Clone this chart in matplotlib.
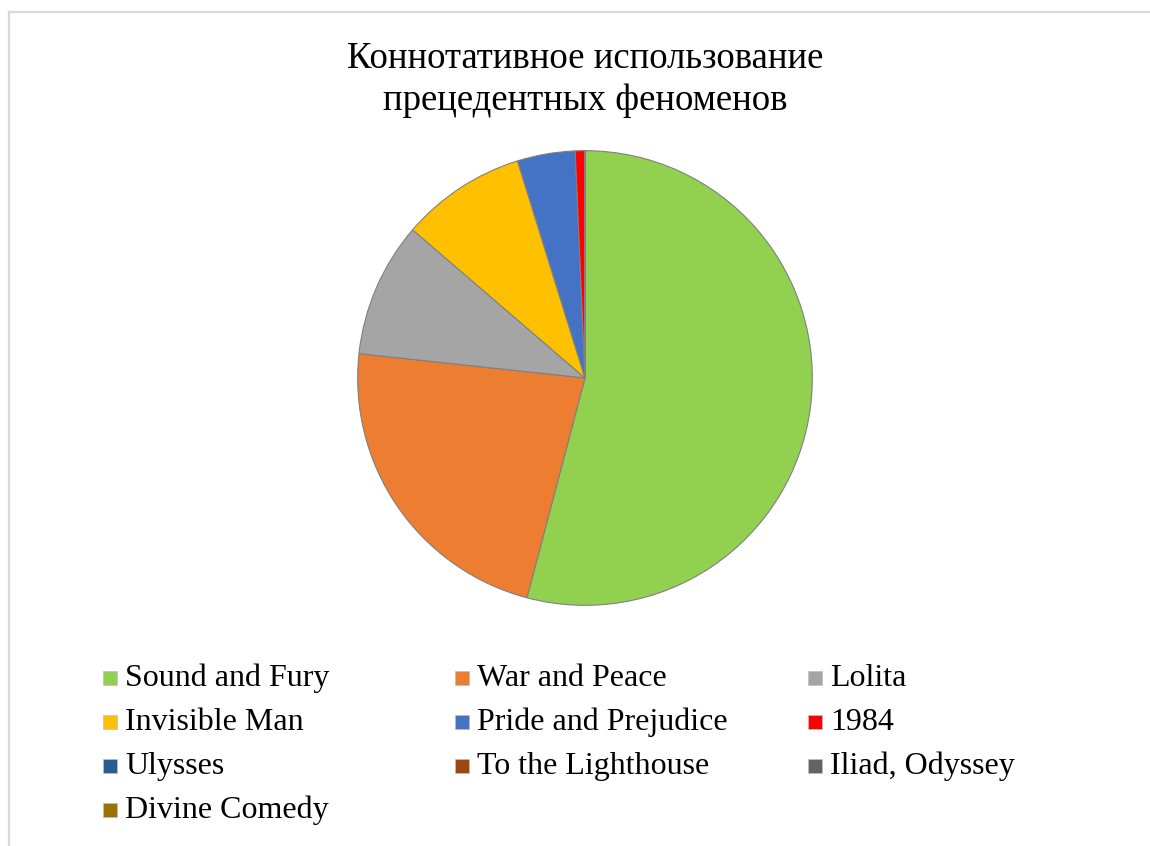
import matplotlib
matplotlib.use("Agg")
import matplotlib.pyplot as plt
from matplotlib.lines import Line2D
from matplotlib.patches import Rectangle

plt.rcParams["font.family"] = ["Liberation Serif", "DejaVu Serif"]

# ── Data ─────────────────────────────────────────────────────────────────────
TITLE = "Коннотативное использование\nпрецедентных феноменов"
books = ["Sound and Fury", "War and Peace", "Lolita", "Invisible Man",
         "Pride and Prejudice", "1984", "Ulysses", "To the Lighthouse",
         "Iliad, Odyssey", "Divine Comedy"]
counts = [79, 33, 14, 13, 6, 1, 0, 0, 0, 0]
colors = ["#92D050", "#ED7D31", "#A5A5A5", "#FFC000", "#4472C4",
          "#FF0000", "#255E91", "#9E480E", "#636363", "#997300"]

W, H = 1150, 846
fig = plt.figure(figsize=(W / 100, H / 100), dpi=100)

# light frame around the chart area (left and top edges visible)
fig.add_artist(Line2D([9 / W, 9 / W], [0, 1 - 12 / H], color="#d9d9d9", lw=1.6,
                      transform=fig.transFigure))
fig.add_artist(Line2D([9 / W, 1], [1 - 12 / H, 1 - 12 / H], color="#d9d9d9", lw=1.6,
                      transform=fig.transFigure))

fig.text(585 / W, 1 - 80 / H, TITLE, ha="center", va="center",
         fontsize=26.5, linespacing=1.28)

# ── Pie ──────────────────────────────────────────────────────────────────────
cx, cy, r = 585, 378, 228
ax = fig.add_axes([(cx - r) / W, 1 - (cy + r) / H, 2 * r / W, 2 * r / H])
ax.pie(counts, colors=colors, startangle=90, counterclock=False,
       wedgeprops=dict(edgecolor="#808080", linewidth=0.8))
ax.set_xlim(-1.003, 1.003)
ax.set_ylim(-1.003, 1.003)
ax.set_aspect("equal")

# ── Legend: 3 columns, filled row by row ─────────────────────────────────────
col_x = [103, 455, 808]       # left edge of colour key, px
row_y = [678, 722, 766, 810]  # vertical centre of each row, px
box = 14
for i, (name, c) in enumerate(zip(books, colors)):
    x = col_x[i % 3]
    y = row_y[i // 3]
    fig.add_artist(Rectangle((x / W, 1 - (y + box / 2) / H), box / W, box / H,
                             facecolor=c, edgecolor="#bfbfbf", linewidth=0.5,
                             transform=fig.transFigure))
    fig.text((x + 22) / W, 1 - (y + 8) / H, name, ha="left", va="baseline",
             fontsize=23)

fig.savefig("out.png", dpi=100)
